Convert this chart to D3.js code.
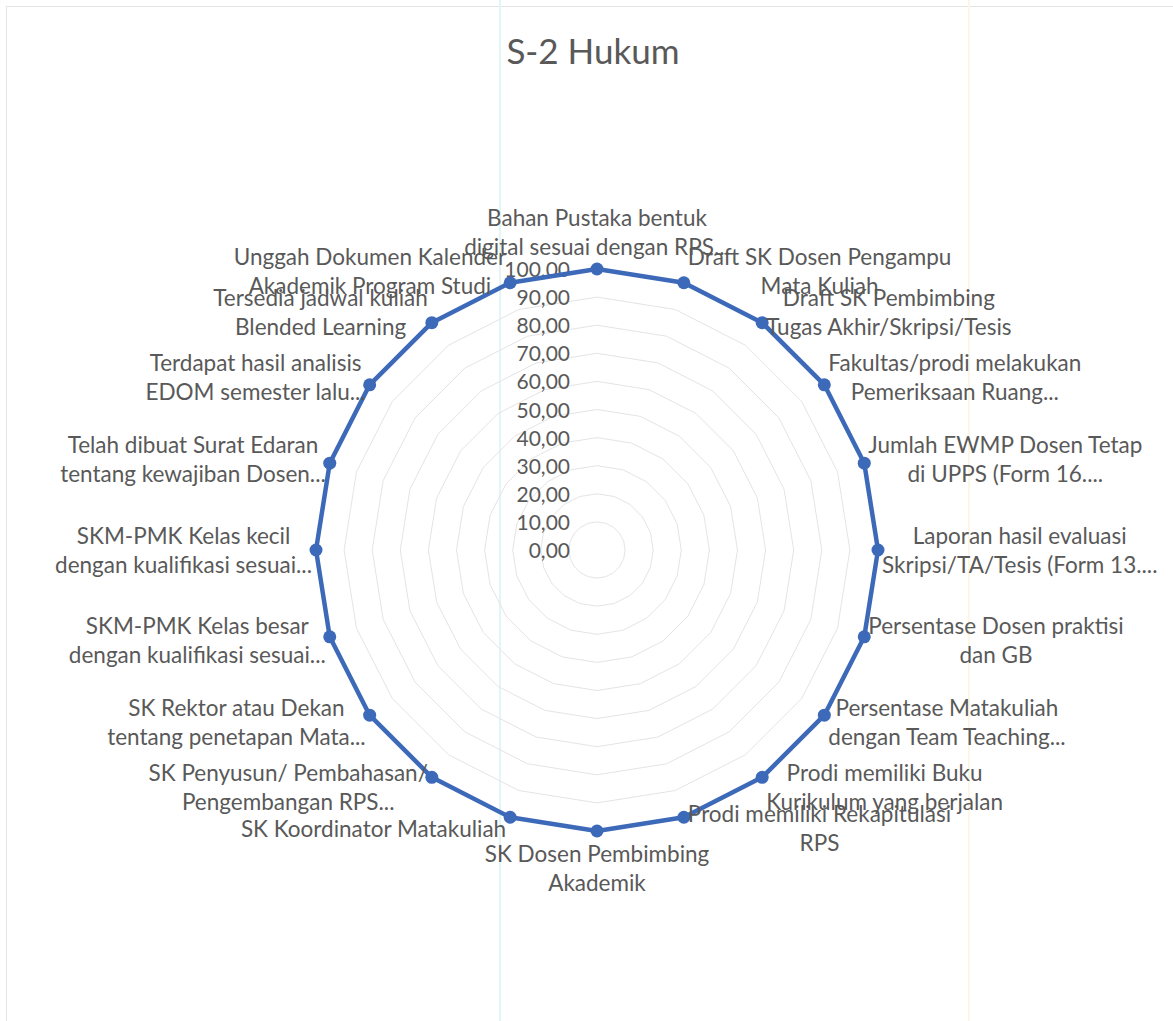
<!DOCTYPE html>
<html>
<head>
<meta charset="utf-8">
<script src="https://cdn.jsdelivr.net/npm/d3@7"></script>
<style>
	body { margin: 0; background: #fff; }
	svg { display: block; font-family: Lato, "Open Sans", sans-serif; }
</style>
</head>
<body>
<script>
(function() {

	// category labels (already wrapped as Excel shows them)
	var categories = [
		["Bahan Pustaka bentuk", "digital sesuai dengan RPS..."],
		["Draft SK Dosen Pengampu", "Mata Kuliah"],
		["Draft SK Pembimbing", "Tugas Akhir/Skripsi/Tesis"],
		["Fakultas/prodi melakukan", "Pemeriksaan Ruang..."],
		["Jumlah EWMP Dosen Tetap", "di UPPS (Form 16...."],
		["Laporan hasil evaluasi", "Skripsi/TA/Tesis (Form 13...."],
		["Persentase Dosen praktisi", "dan GB"],
		["Persentase Matakuliah", "dengan Team Teaching..."],
		["Prodi memiliki Buku", "Kurikulum yang berjalan"],
		["Prodi memiliki Rekapitulasi", "RPS"],
		["SK Dosen Pembimbing", "Akademik"],
		["SK Koordinator Matakuliah"],
		["SK Penyusun/ Pembahasan/", "Pengembangan RPS..."],
		["SK Rektor atau Dekan", "tentang penetapan Mata..."],
		["SKM-PMK Kelas besar", "dengan kualifikasi sesuai..."],
		["SKM-PMK Kelas kecil", "dengan kualifikasi sesuai..."],
		["Telah dibuat Surat Edaran", "tentang kewajiban Dosen..."],
		["Terdapat hasil analisis", "EDOM semester lalu..."],
		["Tersedia jadwal kuliah", "Blended Learning"],
		["Unggah Dokumen Kalender", "Akademik Program Studi"]
	];

	// series values
	var values = [100, 100, 100, 100, 100, 100, 100, 100, 100, 100,
		100, 100, 100, 100, 100, 100, 100, 100, 100, 100];

	// radial axis ticks
	var ticks = [0, 10, 20, 30, 40, 50, 60, 70, 80, 90, 100];

	var title = "S-2 Hukum";


	var width = 1173;
	var height = 1021;
	var cx = 597;
	var cy = 550;
	var radius = 281;
	var lineH = 29;

	var textColor = "#595959";
	var seriesColor = "#3d69b9";


	var svg = d3.select("body")
		.append("svg")
		.attr("width", width)
		.attr("height", height);

	// faint frame of the chart area
	svg.append("rect")
		.attr("x", 6.5)
		.attr("y", 6.5)
		.attr("width", 1170)
		.attr("height", 1020)
		.attr("fill", "none")
		.attr("stroke", "#e4e4e4");

	// scan artifacts: faint vertical streaks
	svg.append("line")
		.attr("x1", 500).attr("x2", 500)
		.attr("y1", 0).attr("y2", height)
		.attr("stroke", "#e3f6f6")
		.attr("stroke-width", 2);
	svg.append("line")
		.attr("x1", 969).attr("x2", 969)
		.attr("y1", 0).attr("y2", height)
		.attr("stroke", "#fbf6e6")
		.attr("stroke-width", 2);

	// title
	svg.append("text")
		.attr("x", cx - 4)
		.attr("y", 64)
		.attr("text-anchor", "middle")
		.attr("fill", textColor)
		.style("font-size", "35px")
		.text(title);


	var angle = d3.scaleLinear()
		.domain([0, categories.length])
		.range([0, 2 * Math.PI]);

	var r = d3.scaleLinear()
		.domain([0, 100])
		.range([0, radius]);

	var g = svg.append("g")
		.attr("transform", "translate(" + cx + "," + cy + ")");


	// grid polygons
	var gridLine = d3.lineRadial()
		.angle(function(d, i) { return angle(i); })
		.curve(d3.curveLinearClosed);

	g.selectAll(".grid")
		.data(ticks.slice(1))
		.enter()
		.append("path")
		.attr("class", "grid")
		.attr("d", function(t) {
			return gridLine.radius(r(t))(categories);
		})
		.attr("fill", "none")
		.attr("stroke", "#e4e4e4")
		.attr("stroke-width", 1);


	// tick labels
	g.selectAll(".tick")
		.data(ticks)
		.enter()
		.append("text")
		.attr("class", "tick")
		.attr("x", -27)
		.attr("y", function(t) { return -r(t) + 8; })
		.attr("text-anchor", "end")
		.attr("fill", textColor)
		.style("font-size", "21px")
		.text(function(t) { return d3.format(".2f")(t).replace(".", ","); });


	// series line
	var seriesLine = d3.lineRadial()
		.angle(function(d, i) { return angle(i); })
		.radius(function(d) { return r(d); })
		.curve(d3.curveLinearClosed);

	g.append("path")
		.datum(values)
		.attr("d", seriesLine)
		.attr("fill", "none")
		.attr("stroke", seriesColor)
		.attr("stroke-width", 4.5)
		.attr("stroke-linejoin", "round");

	g.selectAll(".dot")
		.data(values)
		.enter()
		.append("circle")
		.attr("class", "dot")
		.attr("cx", function(d, i) { return r(d) * Math.sin(angle(i)); })
		.attr("cy", function(d, i) { return -r(d) * Math.cos(angle(i)); })
		.attr("r", 6.5)
		.attr("fill", seriesColor);


	// category labels
	var labels = g.selectAll(".cat")
		.data(categories)
		.enter()
		.append("text")
		.attr("class", "cat")
		.attr("fill", textColor)
		.style("font-size", "22.5px");

	labels.each(function(lines, i) {
		var a = angle(i);
		var s = Math.sin(a);
		var c = Math.cos(a);
		var px = r(values[i]) * s;
		var py = -r(values[i]) * c;
		var h = lines.length * lineH;
		var el = d3.select(this);

		var anchor, x, yc;
		if (Math.abs(s) < 0.1) {
			anchor = "middle";
			x = px;
			yc = py - c * (h / 2 + 8);
		} else {
			anchor = s > 0 ? "start" : "end";
			x = px + (s > 0 ? 4 : -4);
			yc = py - c * 12;
		}

		// measure the widest line so the lines are centred on each other
		el.attr("text-anchor", "middle");
		var tmp = lines.map(function(l) {
			var t = el.append("tspan").text(l);
			var w = t.node().getComputedTextLength();
			t.remove();
			return w;
		});
		var wMax = d3.max(tmp);
		var mid = anchor == "middle" ? x : (anchor == "start" ? x + wMax / 2 : x - wMax / 2);

		lines.forEach(function(l, k) {
			el.append("tspan")
				.attr("x", mid)
				.attr("y", yc - h / 2 + lineH * k + lineH / 2 + 8)
				.text(l);
		});
	});

})();
</script>
</body>
</html>
